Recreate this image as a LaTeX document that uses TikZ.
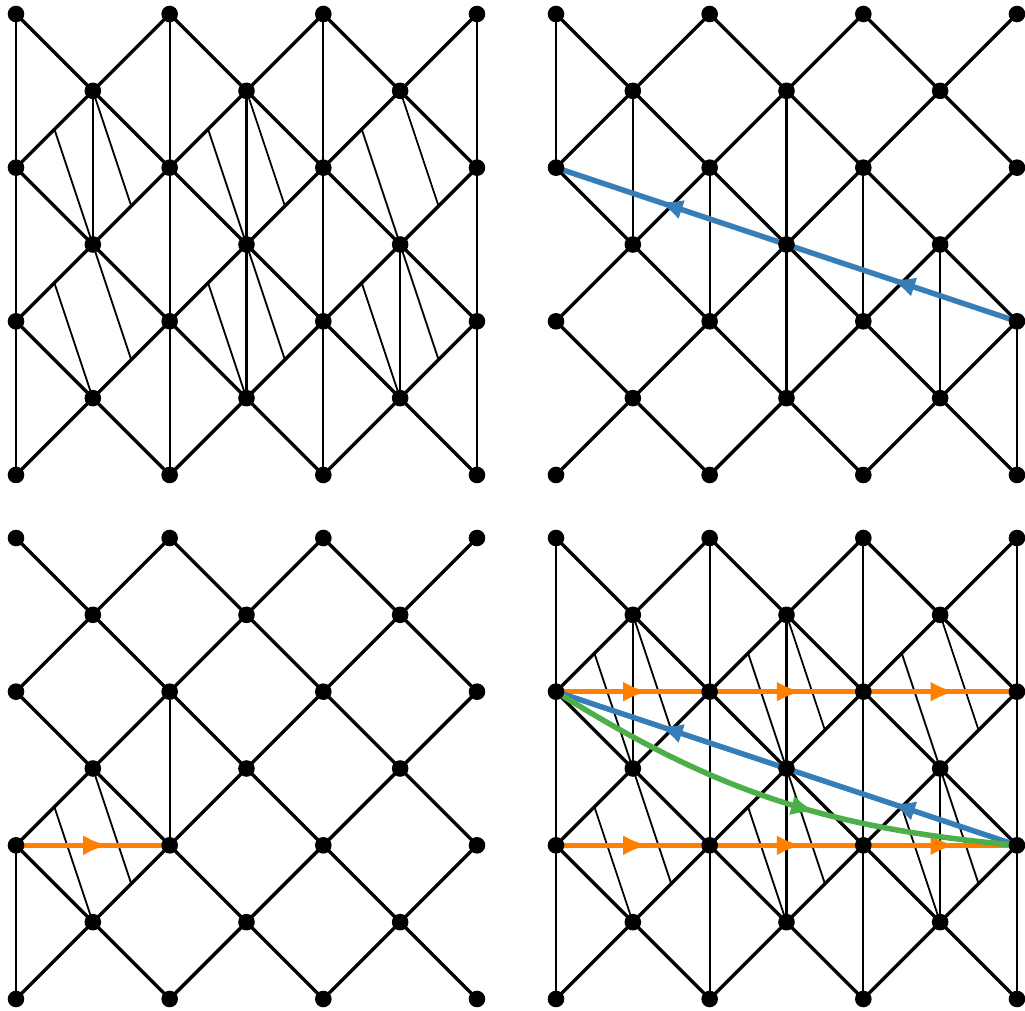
\documentclass[tikz,border=0pt]{standalone}
\usetikzlibrary{arrows.meta,decorations.markings,calc}
\pgfdeclarelayer{bg}
\pgfdeclarelayer{mid}
\pgfsetlayers{bg,mid,main}
\definecolor{cblue}{HTML}{377EB8}
\definecolor{corange}{HTML}{FF7F00}
\definecolor{cgreen}{HTML}{4DAF4A}
\tikzset{
  dot/.style={circle,fill=black,draw=none,inner sep=0pt,minimum size=0.332cm},
  latedge/.style={line width=0.068cm},
  vert/.style={line width=0.044cm},
  hatch/.style={line width=0.036cm},
  trail/.style={line width=0.11cm},
  >={Latex[length=0.5cm,width=0.4cm]},
  onemark/.style={postaction={decorate},decoration={markings,mark=at position #1 with {\arrow{>}}}},
  twomarks/.style 2 args={postaction={decorate},decoration={markings,mark=at position #1 with {\arrow{>}},mark=at position #2 with {\arrow{>}}}},
}
\newcommand\lattice[3]{%
  \foreach \j in {0,2,4,6}{\foreach \i in {0,2,4,6}{\node[dot] (#1-\i-\j) at ({#2+\i*76.83},{#3+\j*76.83}) {};}}
  \foreach \j in {1,3,5}{\foreach \i in {1,3,5}{\node[dot] (#1-\i-\j) at ({#2+\i*76.83},{#3+\j*76.83}) {};}}
  \begin{pgfonlayer}{bg}
  \foreach \j [evaluate=\j as \jj using int(\j+1)] in {0,2,4}{
    \foreach \i [evaluate=\i as \ii using int(\i+1)] in {0,2,4}{\draw[latedge] (#1-\i-\j.center) -- (#1-\ii-\jj.center);}
    \foreach \i [evaluate=\i as \ii using int(\i-1)] in {2,4,6}{\draw[latedge] (#1-\i-\j.center) -- (#1-\ii-\jj.center);}
  }
  \foreach \j [evaluate=\j as \jj using int(\j+1)] in {1,3,5}{
    \foreach \i [evaluate=\i as \ii using int(\i+1), evaluate=\i as \ik using int(\i-1)] in {1,3,5}{
      \draw[latedge] (#1-\i-\j.center) -- (#1-\ii-\jj.center);
      \draw[latedge] (#1-\i-\j.center) -- (#1-\ik-\jj.center);}
  }
  \end{pgfonlayer}
}
\newcommand\verts[2]{%
  \begin{pgfonlayer}{bg}
  \foreach \i/\j in {#2}{\pgfmathtruncatemacro\jj{\j+2}\draw[vert] (#1-\i-\j.center) -- (#1-\i-\jj.center);}
  \end{pgfonlayer}
}
\newcommand\hatches[2]{%
  \begin{pgfonlayer}{bg}
  \foreach \cc/\rr in {#2}{
    \pgfmathtruncatemacro\cL{\cc-1}\pgfmathtruncatemacro\cR{\cc+1}
    \pgfmathtruncatemacro\rU{\rr-1}\pgfmathtruncatemacro\rD{\rr+1}
    \draw[hatch] ($(#1-\cL-\rr.center)!0.5!(#1-\cc-\rU.center)$) -- (#1-\cc-\rD.center);
    \draw[hatch] (#1-\cc-\rU.center) -- ($(#1-\cR-\rr.center)!0.5!(#1-\cc-\rD.center)$);
  }
  \end{pgfonlayer}
}
\begin{document}
\begin{tikzpicture}[x=0.02cm,y=-0.02cm]
\useasboundingbox (0,0) rectangle (1025,1011);
% top-left
\lattice{A}{16}{14}
\verts{A}{0/0,0/2,0/4,1/1,2/0,2/2,2/4,3/1,3/3,4/0,4/2,4/4,5/3,6/0,6/2,6/4}
\hatches{A}{1/2,3/2,5/2,1/4,3/4,5/4}
% top-right
\lattice{B}{556}{14}
\verts{B}{0/0,1/1,2/2,3/1,3/3,4/2,5/3,6/4}
\begin{pgfonlayer}{mid}
\draw[trail,cblue,twomarks={0.275}{0.779}] (B-6-4.center) -- (B-0-2.center);
\end{pgfonlayer}
% bottom-left
\lattice{C}{16}{538}
\verts{C}{0/4,2/2}
\hatches{C}{1/4}
\begin{pgfonlayer}{mid}
\draw[trail,corange,onemark=0.6] (C-0-4.center) -- (C-2-4.center);
\end{pgfonlayer}
% bottom-right
\lattice{D}{556}{538}
\verts{D}{0/0,0/2,0/4,1/1,2/0,2/2,2/4,3/1,3/3,4/0,4/2,4/4,5/3,6/0,6/2,6/4}
\hatches{D}{1/2,3/2,5/2,1/4,3/4,5/4}
\begin{pgfonlayer}{mid}
\foreach \r in {2,4}{
  \draw[trail,corange,onemark=0.6] (D-0-\r.center) -- (D-2-\r.center);
  \draw[trail,corange,onemark=0.6] (D-2-\r.center) -- (D-4-\r.center);
  \draw[trail,corange,onemark=0.6] (D-4-\r.center) -- (D-6-\r.center);
}
\draw[trail,cblue,twomarks={0.275}{0.779}] (D-6-4.center) -- (D-0-2.center);
\draw[trail,cgreen,onemark=0.585] (D-0-2.center) .. controls +(161,101) and +(-189,-17) .. (D-6-4.center);
\end{pgfonlayer}
\end{tikzpicture}
\end{document}
